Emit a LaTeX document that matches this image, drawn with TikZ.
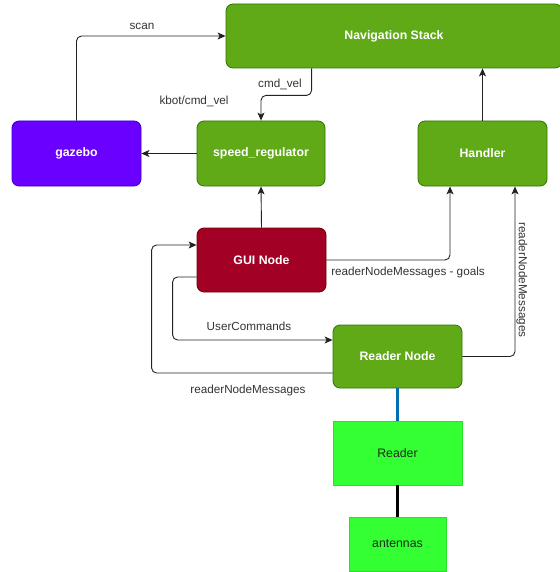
\documentclass[tikz,border=0pt]{standalone}
\usepackage{fontspec}
\setmainfont{Liberation Sans}
\usetikzlibrary{arrows.meta}

\definecolor{navgreen}{HTML}{60A917}
\definecolor{navgreenline}{HTML}{2D7600}
\definecolor{gzpurple}{HTML}{6A00FF}
\definecolor{gzline}{HTML}{3700CC}
\definecolor{guired}{HTML}{A20025}
\definecolor{guiline}{HTML}{6F0000}
\definecolor{hwgreen}{HTML}{33FF33}
\definecolor{hwline}{HTML}{2BE02B}
\definecolor{hwtext}{HTML}{1C2E1C}
\definecolor{linkblue}{HTML}{006EAF}
\definecolor{edgegray}{HTML}{222222}
\definecolor{labelgray}{HTML}{333333}

\begin{document}
\begin{tikzpicture}[x=1pt,y=-1pt,
  box/.style={draw, line width=0.8pt, rounded corners=7pt, text=white,
    font=\fontsize{12.3}{14}\selectfont\bfseries, inner sep=0pt},
  greenbox/.style={box, fill=navgreen, draw=navgreenline},
  hwbox/.style={draw=hwline, fill=hwgreen, line width=0.8pt, text=hwtext,
    font=\fontsize{12.3}{14}\selectfont, inner sep=0pt},
  arr/.style={draw=edgegray, line width=0.9pt, rounded corners=5pt,
    -{Stealth[length=8pt,width=7pt,inset=2pt]}},
  lbl/.style={text=labelgray, font=\fontsize{11.7}{14}\selectfont, inner sep=1pt}]

\useasboundingbox (0,0) rectangle (559,572);

% nodes
\node[greenbox, minimum width=336pt, minimum height=64pt] (nav) at (394,36) {Navigation Stack};
\node[box, fill=gzpurple, draw=gzline, minimum width=129pt, minimum height=65pt] (gazebo) at (76.5,153.5) {gazebo};
\node[greenbox, minimum width=128pt, minimum height=65pt] (speed) at (261,153.5) {speed\_regulator};
\node[greenbox, minimum width=129pt, minimum height=65pt] (handler) at (482.5,153.5) {Handler};
\node[box, fill=guired, draw=guiline, minimum width=129pt, minimum height=64pt] (gui) at (261.5,260) {GUI Node};
\node[greenbox, minimum width=129pt, minimum height=63pt] (rnode) at (397.5,356.5) {Reader Node};
\node[hwbox, minimum width=129pt, minimum height=64pt] (reader) at (397.5,453) {Reader};
\node[hwbox, minimum width=97pt, minimum height=54pt] (antennas) at (397.5,544) {antennas};

% connectors
\draw[arr] (gazebo.north) |- (nav.west);
\node[lbl] (scanlbl) at (142,26) {scan};

\draw[arr] ([xshift=86pt]nav.south west) -- ++(0,27) -| (speed.north);
\node[lbl] (cmdlbl) at (280,84) {cmd\_vel};

\draw[arr] (speed.west) -- (gazebo.east);
\node[lbl] (kbotlbl) at (194,101) {kbot/cmd\_vel};

\draw[arr] (handler.north) -- (handler.north |- nav.south);

\draw[arr] (gui.north) -- (speed.south);

\draw[arr] (gui.east) -| ([xshift=-32.5pt]handler.south);
\node[lbl] (goalslbl) at (408,272) {readerNodeMessages - goals};

\draw[arr] (rnode.east) -| ([xshift=32.5pt]handler.south);
\node[lbl, rotate=-90] (rnmlbl) at (522,280) {readerNodeMessages};

\draw[arr] ([yshift=-17pt]gui.west) -- ++(-24,0) |- ([yshift=16.5pt]rnode.west);
\node[lbl] (ucmdlbl) at (249,326) {UserCommands};

\draw[arr] ([yshift=-16.5pt]rnode.west) -- ++(-181,0) |- ([yshift=15pt]gui.west);
\node[lbl] (msglbl) at (248,390) {readerNodeMessages};

\draw[linkblue, line width=3pt] (rnode.south) -- (reader.north);
\draw[black, line width=3.5pt] (reader.south) -- (antennas.north);

\end{tikzpicture}
\end{document}
